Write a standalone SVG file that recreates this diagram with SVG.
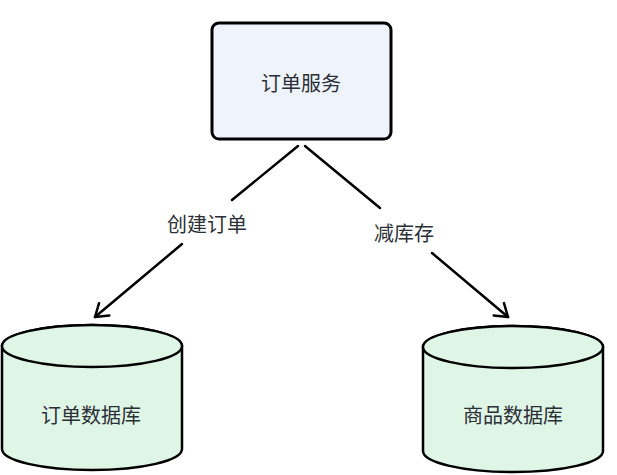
<svg xmlns="http://www.w3.org/2000/svg" width="617" height="475" viewBox="0 0 617 475">
<style>
.lbl{font-family:"Noto Sans CJK SC","Noto Sans",sans-serif;font-size:20px;fill:#2b2f36;text-anchor:middle;dominant-baseline:central}
.edge{stroke:#000;stroke-width:2.5;fill:none;stroke-linecap:round}
.db{fill:#dff5e5;stroke:#000;stroke-width:2.5}
</style>
<defs>
<marker id="arr" viewBox="0 0 20 20" refX="16" refY="10" markerWidth="20" markerHeight="20" markerUnits="userSpaceOnUse" orient="auto">
<path d="M4,2 L16,10 L4,18" fill="none" stroke="#000" stroke-width="2.5" stroke-linecap="round" stroke-linejoin="round"/>
</marker>
</defs>
<rect width="617" height="475" fill="#fff"/>
<g id="connectors">
<path class="edge" d="M298,146 L232,200"/>
<path class="edge" d="M182,244 L95,317" marker-end="url(#arr)"/>
<text class="lbl" x="207" y="223">创建订单</text>
<path class="edge" d="M305,146 L380,208"/>
<path class="edge" d="M432,253 L508,317" marker-end="url(#arr)"/>
<text class="lbl" x="404" y="232">减库存</text>
</g>
<g id="order-service">
<rect x="212" y="23" width="179" height="116" rx="7" fill="#eef3fc" stroke="#000" stroke-width="3"/>
<text class="lbl" x="301" y="82">订单服务</text>
</g>
<g id="order-db">
<path class="db" d="M2,346 L2,449 A90,21 0 0 0 182,449 L182,346 A90,21 0 0 0 2,346 Z"/>
<ellipse class="db" cx="92" cy="346" rx="90" ry="21"/>
<text class="lbl" x="91" y="414">订单数据库</text>
</g>
<g id="product-db">
<path class="db" d="M423,347 L423,451 A90,21 0 0 0 603,451 L603,347 A90,21 0 0 0 423,347 Z"/>
<ellipse class="db" cx="513" cy="347" rx="90" ry="21"/>
<text class="lbl" x="513" y="414">商品数据库</text>
</g>
</svg>
